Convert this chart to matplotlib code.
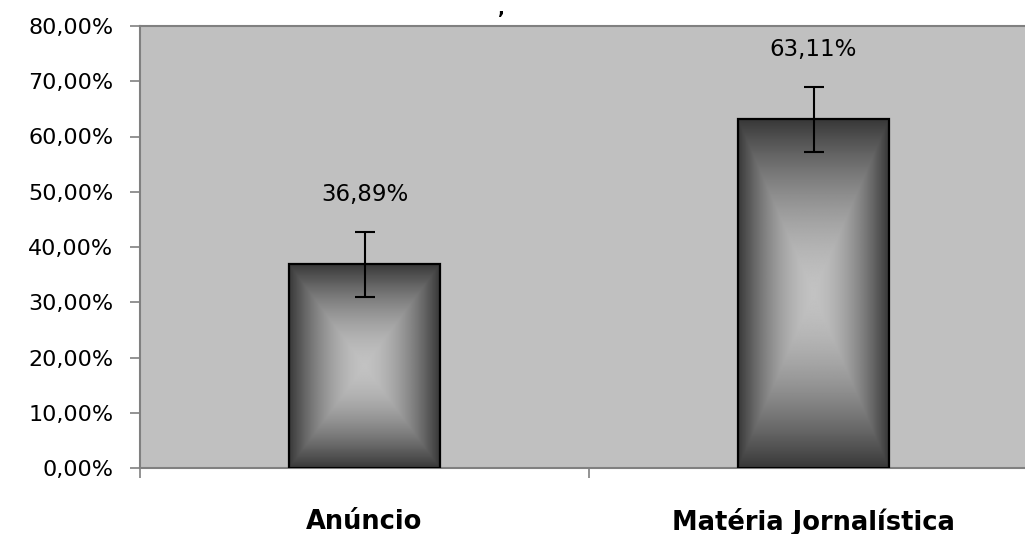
import numpy as np
import matplotlib
matplotlib.use("Agg")
import matplotlib.pyplot as plt
import matplotlib.transforms as mtransforms

categories = ["Anúncio", "Matéria Jornalística"]
values = [36.89, 63.11]
errors = [5.9, 5.9]
value_labels = ["36,89%", "63,11%"]
yticks = [0, 10, 20, 30, 40, 50, 60, 70, 80]
ytick_labels = ["0,00%", "10,00%", "20,00%", "30,00%", "40,00%",
                "50,00%", "60,00%", "70,00%", "80,00%"]

fig = plt.figure(figsize=(10.25, 5.34), dpi=100)
fig.patch.set_facecolor("white")
ax = fig.add_axes([140 / 1025, 66 / 534, 898 / 1025, 442 / 534])
ax.set_facecolor("#C0C0C0")

x = np.arange(len(categories))
bars = ax.bar(x, values, width=0.336, color="none", edgecolor="black",
              linewidth=1.6, zorder=3)
ax.set_xlim(-0.5, 1.5)
ax.set_ylim(0, 80)

# rectangular "from centre" gradient, clipped to each bar
n = 400
u = np.linspace(-1, 1, n)
U, V = np.meshgrid(u, u)
D = np.maximum(np.abs(U), np.abs(V))
inten = 0.22 + 0.54 * (1 - D ** 1.7)
for b in bars:
    x0, y0 = b.get_x(), b.get_y()
    w, h = b.get_width(), b.get_height()
    im = ax.imshow(inten, cmap="gray", vmin=0, vmax=1,
                   extent=(x0, x0 + w, y0, y0 + h), aspect="auto",
                   interpolation="bilinear", zorder=2)
    im.set_clip_path(b)
ax.set_xlim(-0.5, 1.5)
ax.set_ylim(0, 80)

ax.errorbar(x, values, yerr=errors, fmt="none", ecolor="black",
            elinewidth=1.5, capsize=7, capthick=1.5, zorder=4)

for xi, v, lab in zip(x, values, value_labels):
    ax.annotate(lab, xy=(xi, v), xytext=(0, 50), textcoords="offset points",
                ha="center", va="center", fontsize=16.5, family="DejaVu Sans",
                color="black", zorder=5)

ax.set_yticks(yticks)
ax.set_yticklabels(ytick_labels, fontsize=16, family="DejaVu Sans")
ax.tick_params(axis="y", direction="out", length=7.2, width=1.2,
               color="#808080", pad=12)
ax.set_xticks([-0.5, 0.5, 1.5])
ax.set_xticklabels([])
ax.tick_params(axis="x", direction="out", length=7.2, width=1.2,
               color="#808080")

for s in ["left", "bottom", "top", "right"]:
    ax.spines[s].set_color("#808080")
    ax.spines[s].set_linewidth(1.5)

trans = mtransforms.blended_transform_factory(ax.transData, fig.transFigure)
for xi, c in zip(x, categories):
    ax.text(xi, 12 / 534, c, transform=trans, ha="center", va="center",
            fontsize=18.5, fontweight="bold", family="DejaVu Sans",
            clip_on=False)

# fragment of the cut-off title at the top edge
fig.text(501 / 1025, 1.0, ",", ha="center", va="top", fontsize=13,
         fontweight="bold", family="DejaVu Sans")

fig.savefig("out.png", dpi=100)
